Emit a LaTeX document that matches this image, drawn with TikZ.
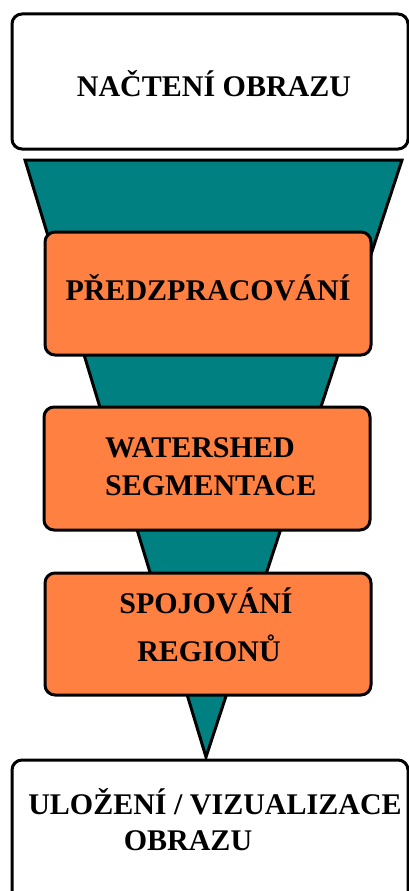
\documentclass[tikz,border=0pt]{standalone}
\usepackage{fontspec}
\newfontfamily\lblfont{Liberation Serif}
\definecolor{funnelteal}{HTML}{008080}
\definecolor{boxorange}{HTML}{FF8040}
\tikzset{
  stagebox/.style={draw=black, line width=3pt, rounded corners=10pt, inner sep=0pt},
  whitebox/.style={stagebox, fill=white},
  orangebox/.style={stagebox, fill=boxorange},
  lbl/.style={font=\lblfont\bfseries\fontsize{30}{32}\selectfont, inner sep=0pt, anchor=base},
  lblw/.style={lbl, anchor=base west}
}
\begin{document}
\begin{tikzpicture}[x=1pt,y=-1pt]
\useasboundingbox (0,0) rectangle (409,891);
\clip (0,0) rectangle (409,891);
% top box
\node[whitebox, minimum width=396pt, minimum height=135pt] (load) at (210,81.5) {};
\node[lbl] (loadtxt) at (214,96) {NAČTENÍ OBRAZU};
% funnel
\coordinate (fl) at (25,160);
\coordinate (fr) at (402,160);
\coordinate (ft) at (206,757);
\draw[line width=3pt, fill=funnelteal, line join=miter] (fl) -- (fr) -- (ft) -- cycle;
% orange stages
\node[orangebox, minimum width=326pt, minimum height=123pt] (pre) at (208,293.5) {};
\node[lbl] (pretxt) at (208,300) {PŘEDZPRACOVÁNÍ};
\node[orangebox, minimum width=326pt, minimum height=123pt] (ws) at (207,468.5) {};
\node[lblw] (wstxt1) at (105,457) {WATERSHED};
\node[lblw] (wstxt2) at (105,495) {SEGMENTACE};
\node[orangebox, minimum width=326pt, minimum height=122pt] (merge) at (208,634) {};
\node[lbl] (mergetxt1) at (206,613) {SPOJOVÁNÍ};
\node[lbl] (mergetxt2) at (209,661) {REGIONŮ};
% bottom box
\node[whitebox, minimum width=396pt, minimum height=150pt] (save) at (210,835) {};
\node[lbl] (savetxt1) at (215,814) {ULOŽENÍ / VIZUALIZACE};
\node[lbl] (savetxt2) at (188,850) {OBRAZU};
\end{tikzpicture}
\end{document}
